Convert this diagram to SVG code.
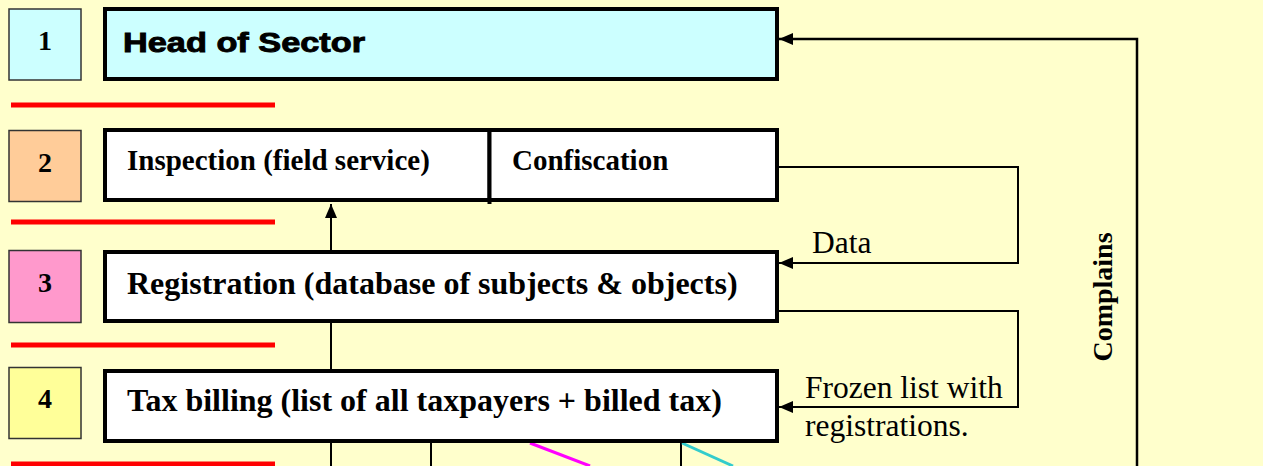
<svg xmlns="http://www.w3.org/2000/svg" width="1263" height="466" viewBox="0 0 1263 466">
<style>
.num{stroke:#333;stroke-width:1.5}
.numt{font-family:"Liberation Serif","Times New Roman",serif;font-weight:bold;font-size:28px;text-anchor:middle;fill:#000}
.box{stroke:#000;stroke-width:4;fill:#fff}
.bt{font-family:"Liberation Serif","Times New Roman",serif;font-weight:bold;fill:#000}
.lbl{font-family:"Liberation Serif","Times New Roman",serif;font-size:31.5px;fill:#000}
.sep{stroke:#f00;stroke-width:5}
.con{fill:none;stroke:#000;stroke-width:2}
</style>
<defs>
<marker id="ah" markerUnits="userSpaceOnUse" markerWidth="14" markerHeight="12" refX="14" refY="6" orient="auto">
<path d="M0,0 L14,6 L0,12 z" fill="#000"/>
</marker>
</defs>
<rect width="1263" height="466" fill="#FFFFCC"/>
<g id="separators">
<line class="sep" x1="11" y1="105" x2="275" y2="105"/>
<line class="sep" x1="11" y1="222" x2="275" y2="222"/>
<line class="sep" x1="11" y1="345" x2="275" y2="345"/>
<line class="sep" x1="11" y1="464" x2="275" y2="464"/>
</g>
<g id="connectors">
<path class="con" d="M331,466 V204" marker-end="url(#ah)"/>
<path class="con" style="stroke-width:2.5" d="M1137,466 V39 H779" marker-end="url(#ah)"/>
<path class="con" d="M779,167 H1018 V263 H779" marker-end="url(#ah)"/>
<path class="con" d="M779,311 H1018 V407 H779" marker-end="url(#ah)"/>
<line class="con" x1="431" y1="443" x2="431" y2="466"/>
<line class="con" x1="681" y1="443" x2="681" y2="466"/>
<line x1="530" y1="443" x2="590" y2="466" stroke="#f0f" stroke-width="3"/>
<line x1="682" y1="443" x2="733" y2="466" stroke="#33CCCC" stroke-width="3"/>
</g>
<g id="n1">
<rect class="num" x="9" y="9" width="72" height="71" fill="#CCFFFF"/>
<text class="numt" x="45" y="50">1</text>
</g>
<g id="n2">
<rect class="num" x="9" y="130.5" width="72" height="71" fill="#FFCC99"/>
<text class="numt" x="45" y="172">2</text>
</g>
<g id="n3">
<rect class="num" x="9" y="250.5" width="72" height="72" fill="#FF99CC"/>
<text class="numt" x="45" y="292">3</text>
</g>
<g id="n4">
<rect class="num" x="9" y="367.5" width="72" height="71" fill="#FFFF99"/>
<text class="numt" x="45" y="408">4</text>
</g>
<g id="head">
<rect class="box" x="105" y="9" width="672" height="70" style="fill:#CCFFFF"/>
<text x="123" y="52" font-family="'Liberation Sans',Arial,sans-serif" font-weight="bold" font-size="27" stroke="#000" stroke-width="0.9" textLength="242" lengthAdjust="spacingAndGlyphs">Head of Sector</text>
</g>
<g id="inspection">
<rect class="box" x="105" y="130" width="384.5" height="70"/>
<line x1="489.5" y1="200" x2="489.5" y2="204" stroke="#000" stroke-width="4"/>
<text class="bt" x="127" y="170" font-size="29">Inspection (field service)</text>
</g>
<g id="confiscation">
<rect class="box" x="489.5" y="130" width="287.5" height="70"/>
<text class="bt" x="512" y="170" font-size="29">Confiscation</text>
</g>
<g id="registration">
<rect class="box" x="105" y="252" width="672" height="69"/>
<text class="bt" x="127" y="294" font-size="32">Registration (database of subjects &amp; objects)</text>
</g>
<g id="taxbilling">
<rect class="box" x="105" y="371" width="672" height="70"/>
<text class="bt" x="127" y="411" font-size="32">Tax billing (list of all taxpayers + billed tax)</text>
</g>
<g id="labels">
<text class="lbl" x="812" y="253">Data</text>
<text class="lbl" x="805" y="398">Frozen list with</text>
<text class="lbl" x="805" y="436">registrations.</text>
<text class="bt" font-size="28" text-anchor="middle" transform="translate(1112,297) rotate(-90)">Complains</text>
</g>
</svg>
